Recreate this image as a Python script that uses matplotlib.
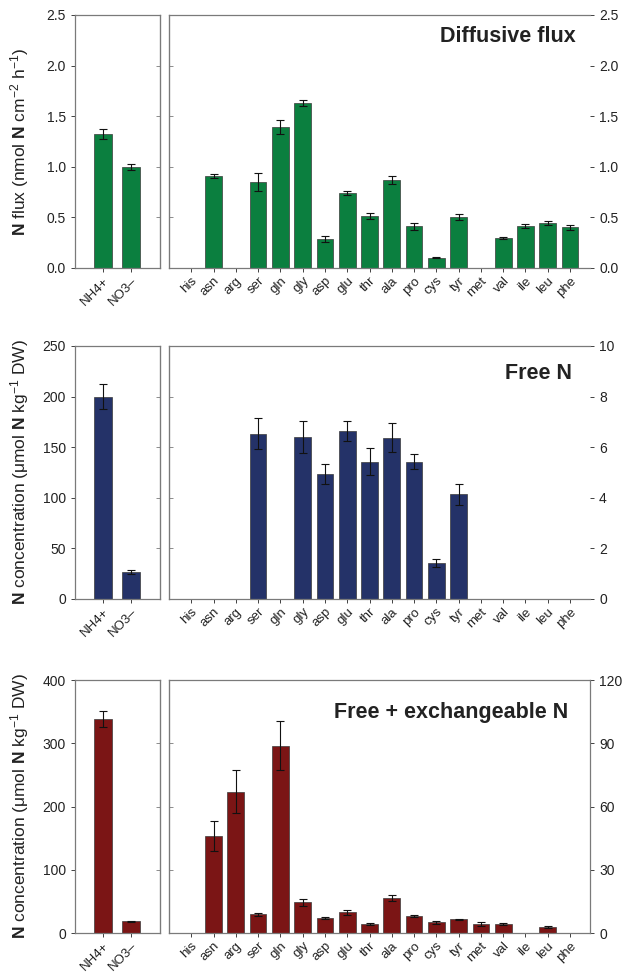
import matplotlib
matplotlib.use("Agg")
import matplotlib.pyplot as plt
import numpy as np

plt.rcParams['font.family'] = ['Liberation Sans', 'DejaVu Sans']
plt.rcParams['mathtext.fontset'] = 'custom'
plt.rcParams['mathtext.rm'] = 'Liberation Sans'
plt.rcParams['mathtext.bf'] = 'Liberation Sans:bold'
plt.rcParams['mathtext.it'] = 'Liberation Sans:italic'

ions = ['NH4+', 'NO3\u2013']
amino = ['his', 'asn', 'arg', 'ser', 'gln', 'gly', 'asp', 'glu', 'thr',
         'ala', 'pro', 'cys', 'tyr', 'met', 'val', 'ile', 'leu', 'phe']

# diffusive flux (nmol N cm-2 h-1)
flux_ion = [1.32, 1.00]
flux_ion_err = [0.05, 0.03]
flux_aa = [0, 0.91, 0, 0.85, 1.39, 1.63, 0.29, 0.74, 0.51,
           0.87, 0.41, 0.10, 0.50, 0, 0.30, 0.41, 0.44, 0.40]
flux_aa_err = [0, 0.02, 0, 0.09, 0.07, 0.03, 0.03, 0.02, 0.03,
               0.04, 0.03, 0.005, 0.03, 0, 0.01, 0.02, 0.02, 0.02]

# free N (umol N kg-1 DW)
free_ion = [200, 27]
free_ion_err = [12, 2]
free_aa = [0, 0, 0, 6.54, 0, 6.41, 4.94, 6.64, 5.43,
           6.37, 5.43, 1.42, 4.14, 0, 0, 0, 0, 0]
free_aa_err = [0, 0, 0, 0.62, 0, 0.63, 0.40, 0.41, 0.52,
               0.57, 0.30, 0.16, 0.41, 0, 0, 0, 0, 0]

# free + exchangeable N (umol N kg-1 DW)
exch_ion = [338, 18.4]
exch_ion_err = [12.6, 1.0]
exch_aa = [0, 45.9, 67.1, 8.8, 88.9, 14.5, 7.1, 9.8, 4.4,
           16.7, 8.1, 5.1, 6.5, 4.1, 4.4, 0, 3.0, 0]
exch_aa_err = [0, 7.1, 10.3, 0.6, 11.7, 1.6, 0.6, 1.3, 0.5,
               1.4, 0.6, 0.6, 0.3, 1.0, 0.5, 0, 0.5, 0]

panels = [
    dict(title='Diffusive flux', color='#0b7f3f',
         ion=flux_ion, ion_err=flux_ion_err, aa=flux_aa, aa_err=flux_aa_err,
         lticks=np.arange(0, 2.51, 0.5), rticks=np.arange(0, 2.51, 0.5),
         lfmt='%.1f', rfmt='%.1f',
         ylabel='$\\mathbf{N}$ flux (nmol $\\mathbf{N}$ cm$^{-2}$ h$^{-1}$)',
         bottom=0.7246, title_xy=(0.967, 0.913), rspine=False),
    dict(title='Free N', color='#243268',
         ion=free_ion, ion_err=free_ion_err, aa=free_aa, aa_err=free_aa_err,
         lticks=np.arange(0, 251, 50), rticks=np.arange(0, 10.1, 2),
         lfmt='%d', rfmt='%d',
         ylabel='$\\mathbf{N}$ concentration (\u03bcmol $\\mathbf{N}$ kg$^{-1}$ DW)',
         bottom=0.3844, title_xy=(0.957, 0.893), rspine=False),
    dict(title='Free + exchangeable N', color='#7b1515',
         ion=exch_ion, ion_err=exch_ion_err, aa=exch_aa, aa_err=exch_aa_err,
         lticks=np.arange(0, 401, 100), rticks=np.arange(0, 121, 30),
         lfmt='%d', rfmt='%d',
         ylabel='$\\mathbf{N}$ concentration (\u03bcmol $\\mathbf{N}$ kg$^{-1}$ DW)',
         bottom=0.0411, title_xy=(0.948, 0.870), rspine=True),
]

SPINE = '#7a7a7a'
TXT = '#222222'
TICKSIZE = 10
XTICKSIZE = 9.5

fig = plt.figure(figsize=(6.22, 9.73), dpi=100)

for p in panels:
    h = 0.260
    axl = fig.add_axes([0.1206, p['bottom'], 0.1367, h])
    axr = fig.add_axes([0.2717, p['bottom'], 0.677, h])

    x_ion = np.arange(len(ions))
    axl.bar(x_ion, p['ion'], width=0.64, color=p['color'],
            edgecolor='#3a3a3a', linewidth=0.5, zorder=2)
    axl.errorbar(x_ion, p['ion'], yerr=p['ion_err'], fmt='none',
                 ecolor='#111111', elinewidth=0.8, capsize=3, capthick=0.8,
                 zorder=3)
    axl.set_xlim(-1.0, 2.05)
    axl.set_ylim(p['lticks'][0], p['lticks'][-1])
    axl.set_yticks(p['lticks'])
    axl.set_yticklabels([p['lfmt'] % v for v in p['lticks']])
    axl.set_xticks(x_ion)
    axl.set_xticklabels(ions, rotation=45, ha='right', rotation_mode='anchor')
    axl.tick_params(axis='y', labelsize=TICKSIZE, colors=TXT, length=3,
                    width=0.6, direction='out')
    axl.tick_params(axis='x', labelsize=XTICKSIZE, colors=TXT, length=3,
                    width=0.6, direction='out', pad=2)
    inner = axl.secondary_yaxis('right')
    inner.set_yticks(p['lticks'][1:-1])
    inner.tick_params(direction='in', length=3, width=0.6, labelright=False,
                      colors=SPINE)
    inner.spines['right'].set_color(SPINE)
    for s in axl.spines.values():
        s.set_color(SPINE)
        s.set_linewidth(0.9)
    ymid = p['bottom'] + h / 2
    fig.text(20 / 622, ymid, p['ylabel'], rotation=90, ha='center',
             va='center', fontsize=12.5, color=TXT)

    x_aa = np.arange(len(amino))
    axr.bar(x_aa, p['aa'], width=0.75, color=p['color'],
            edgecolor='#3a3a3a', linewidth=0.5, zorder=2)
    mask = np.array(p['aa_err']) > 0
    axr.errorbar(x_aa[mask], np.array(p['aa'])[mask],
                 yerr=np.array(p['aa_err'])[mask], fmt='none',
                 ecolor='#111111', elinewidth=0.8, capsize=3, capthick=0.8,
                 zorder=3)
    axr.set_xlim(-1.0, 17.9)
    axr.set_ylim(p['rticks'][0], p['rticks'][-1])
    axr.yaxis.tick_right()
    axr.set_yticks(p['rticks'])
    axr.set_yticklabels([p['rfmt'] % v for v in p['rticks']])
    axr.set_xticks(x_aa)
    axr.set_xticklabels(amino, rotation=45, ha='right', rotation_mode='anchor')
    axr.tick_params(axis='y', labelsize=TICKSIZE, colors=TXT, length=3,
                    width=0.6, direction='out')
    axr.tick_params(axis='x', labelsize=XTICKSIZE, colors=TXT, length=3,
                    width=0.6, direction='out', pad=2)
    inner_r = axr.secondary_yaxis('left')
    inner_r.set_yticks(p['rticks'][1:-1])
    inner_r.tick_params(direction='in', length=3, width=0.6, labelleft=False,
                        colors=SPINE)
    inner_r.spines['left'].set_color(SPINE)
    for s in axr.spines.values():
        s.set_color(SPINE)
        s.set_linewidth(0.9)
    axr.spines['right'].set_visible(p['rspine'])
    axr.text(p['title_xy'][0], p['title_xy'][1], p['title'],
             transform=axr.transAxes, ha='right', va='center',
             fontsize=15.5, fontweight='bold', color=TXT)

fig.savefig('out.png', dpi=100)
